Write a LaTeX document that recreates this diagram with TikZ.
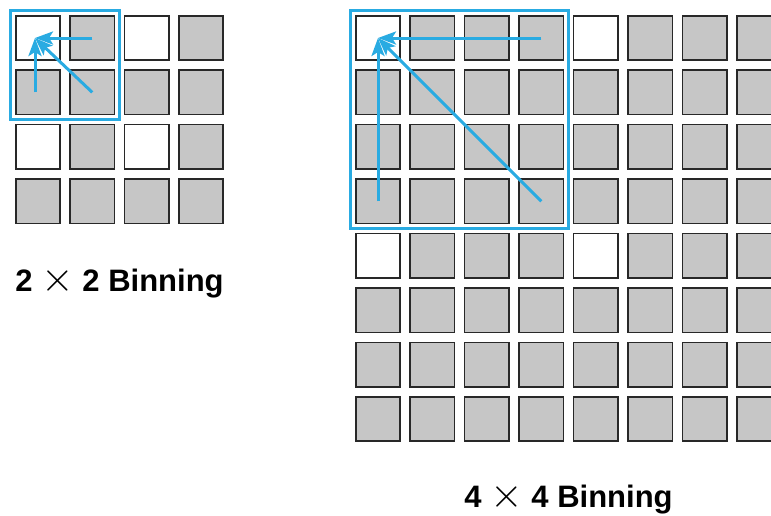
\documentclass[tikz,border=0pt]{standalone}
\usepackage{fontspec}
\setmainfont{Liberation Sans}
\usetikzlibrary{arrows.meta, positioning, fit}
\definecolor{binblue}{RGB}{41,171,226}
\definecolor{pxgray}{RGB}{198,198,198}
\definecolor{pxedge}{RGB}{40,40,40}
\newcommand{\bintimes}{\scalebox{4.2}{\normalsize$\times$}}

\begin{document}
\begin{tikzpicture}[
    x=1pt, y=-1pt,
    px/.style={draw=pxedge, line width=1.6pt, minimum size=44.4pt,
               inner sep=0pt, fill=pxgray},
    binbox/.style={draw=binblue, line width=3pt, inner sep=4.5pt},
    bin/.style={-{Stealth[length=18pt, width=13pt, inset=4pt]}, draw=binblue,
                line width=3pt},
    caption/.style={font=\fontsize{31}{36}\selectfont\bfseries, anchor=base},
]
\useasboundingbox (0,0) rectangle (771,515);
% 4x4 sensor
\foreach \i in {0,...,3}
  \foreach \j in {0,...,3}{
    \pgfmathtruncatemacro{\w}{(mod(\i,2)==0)&&(mod(\j,2)==0)}
    \def\pxfill{pxgray}
    \ifnum\w=1 \def\pxfill{white}\fi
    \node[px, fill=\pxfill] (sm-\i-\j) at ({38+54.3*\i},{38+54.4*\j}) {};
  }
% 8x8 sensor
\foreach \i in {0,...,7}
  \foreach \j in {0,...,7}{
    \pgfmathtruncatemacro{\w}{(mod(\i,4)==0)&&(mod(\j,4)==0)}
    \def\pxfill{pxgray}
    \ifnum\w=1 \def\pxfill{white}\fi
    \node[px, fill=\pxfill] (lg-\i-\j) at ({378+54.43*\i},{38+54.43*\j}) {};
  }
\node[binbox, fit=(sm-0-0)(sm-1-1)] (sm-bin) {};
\node[binbox, fit=(lg-0-0)(lg-3-3)] (lg-bin) {};
\coordinate (sm-tip) at ([xshift=-3pt]sm-0-0.center);
\draw[bin] (sm-1-0.center) -- (sm-tip);
\draw[bin] ([xshift=-3pt]sm-0-1.center) -- (sm-tip);
\draw[bin] (sm-1-1.center) -- (sm-tip);
\draw[bin] (lg-3-0.center) -- (lg-0-0.center);
\draw[bin] (lg-0-3.center) -- (lg-0-0.center);
\draw[bin] (lg-3-3.center) -- (lg-0-0.center);
\node[caption] (sm-label) at (119.5,291) {2 \bintimes{} 2 Binning};
\node[caption] (lg-label) at (568.5,507) {4 \bintimes{} 4 Binning};
\end{tikzpicture}
\end{document}
